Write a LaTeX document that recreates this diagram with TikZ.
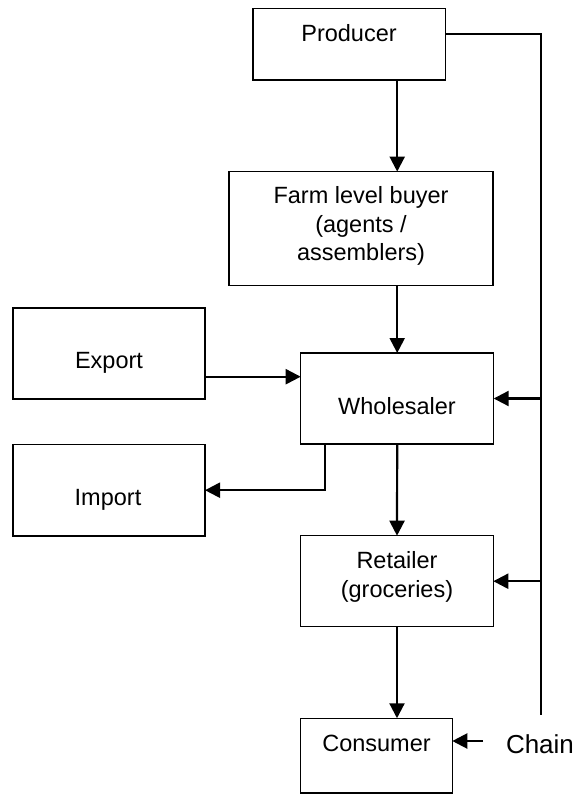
\documentclass[tikz,border=0pt]{standalone}
\usepackage{fontspec}
\setmainfont{Liberation Sans}
\usetikzlibrary{arrows.meta,calc}
\tikzset{
  box/.style={draw=black, line width=1.5pt, inner sep=0pt, outer sep=0pt, fill=white},
  lbl/.style={font=\fontsize{23.5}{28.5}\selectfont, inner sep=0pt, outer sep=0pt, align=center},
  arr/.style={line width=2.2pt, -{Triangle[length=15pt,width=15pt]}},
  plain/.style={line width=1.8pt},
}
\begin{document}
\begin{tikzpicture}[x=1pt,y=-1pt]
\useasboundingbox (0,0) rectangle (574,795);
\fill[white] (0,0) rectangle (574,795);
% boxes
\node[box, minimum width=192.5pt, minimum height=71.7pt] (producer) at (349.2,44.2) {};
\node[box, minimum width=264pt, minimum height=114pt] (farm) at (361,228.6) {};
\node[box, minimum width=192.3pt, minimum height=91pt] (export) at (108.9,353.5) {};
\node[box, minimum width=193pt, minimum height=91pt] (whole) at (397.2,398.5) {};
\node[box, minimum width=192pt, minimum height=91.7pt] (import) at (109,490.2) {};
\node[box, minimum width=192.6pt, minimum height=91pt] (retail) at (397,581.2) {};
\node[box, minimum width=151.6pt, minimum height=74.7pt] (consumer) at (376.5,755.6) {};
% texts
\node[lbl, anchor=base] (tproducer) at (349,41.7) {Producer};
\node[lbl, anchor=center] (tfarm) at (361,226) {Farm level buyer\\(agents /\\assemblers)};
\node[lbl, anchor=base] (texport) at (109,368.3) {Export};
\node[lbl, anchor=base] (twhole) at (397,414) {Wholesaler};
\node[lbl, anchor=base] (timport) at (108,505) {Import};
\node[lbl, anchor=center] (tretail) at (397,577) {Retailer\\(groceries)};
\node[lbl, anchor=base] (tconsumer) at (376.5,751.7) {Consumer};
\node[font=\fontsize{26}{30}\selectfont, inner xsep=23pt, inner ysep=0pt, outer sep=0pt,
      text height=24pt, text depth=0pt, anchor=base west] (chain) at (483,753) {Chain};
% right-hand line
\coordinate (rbot) at (541,715);
\draw[plain] ([yshift=10.2pt]producer.east) -| (rbot);
% vertical flow
\draw[arr] (producer.south -| whole.north) -- (farm.north -| whole.north);
\draw[arr] (farm.south -| whole.north) -- (whole.north);
\draw[arr] (whole.south) -- (retail.north);
\draw[arr] (retail.south) -- (retail.south |- consumer.north);
% side arrows
\draw[arr] ([yshift=-23.2pt]export.east) -- ([yshift=-23.2pt]export.east -| whole.west);
\draw[arr] ([xshift=24.3pt]whole.south west) |- (import.east);
\draw[arr] (whole.east -| rbot) -- (whole.east);
\draw[arr] (retail.east -| rbot) -- (retail.east);
\draw[arr] (chain.west) -- (chain.west -| consumer.east);
\end{tikzpicture}
\end{document}
